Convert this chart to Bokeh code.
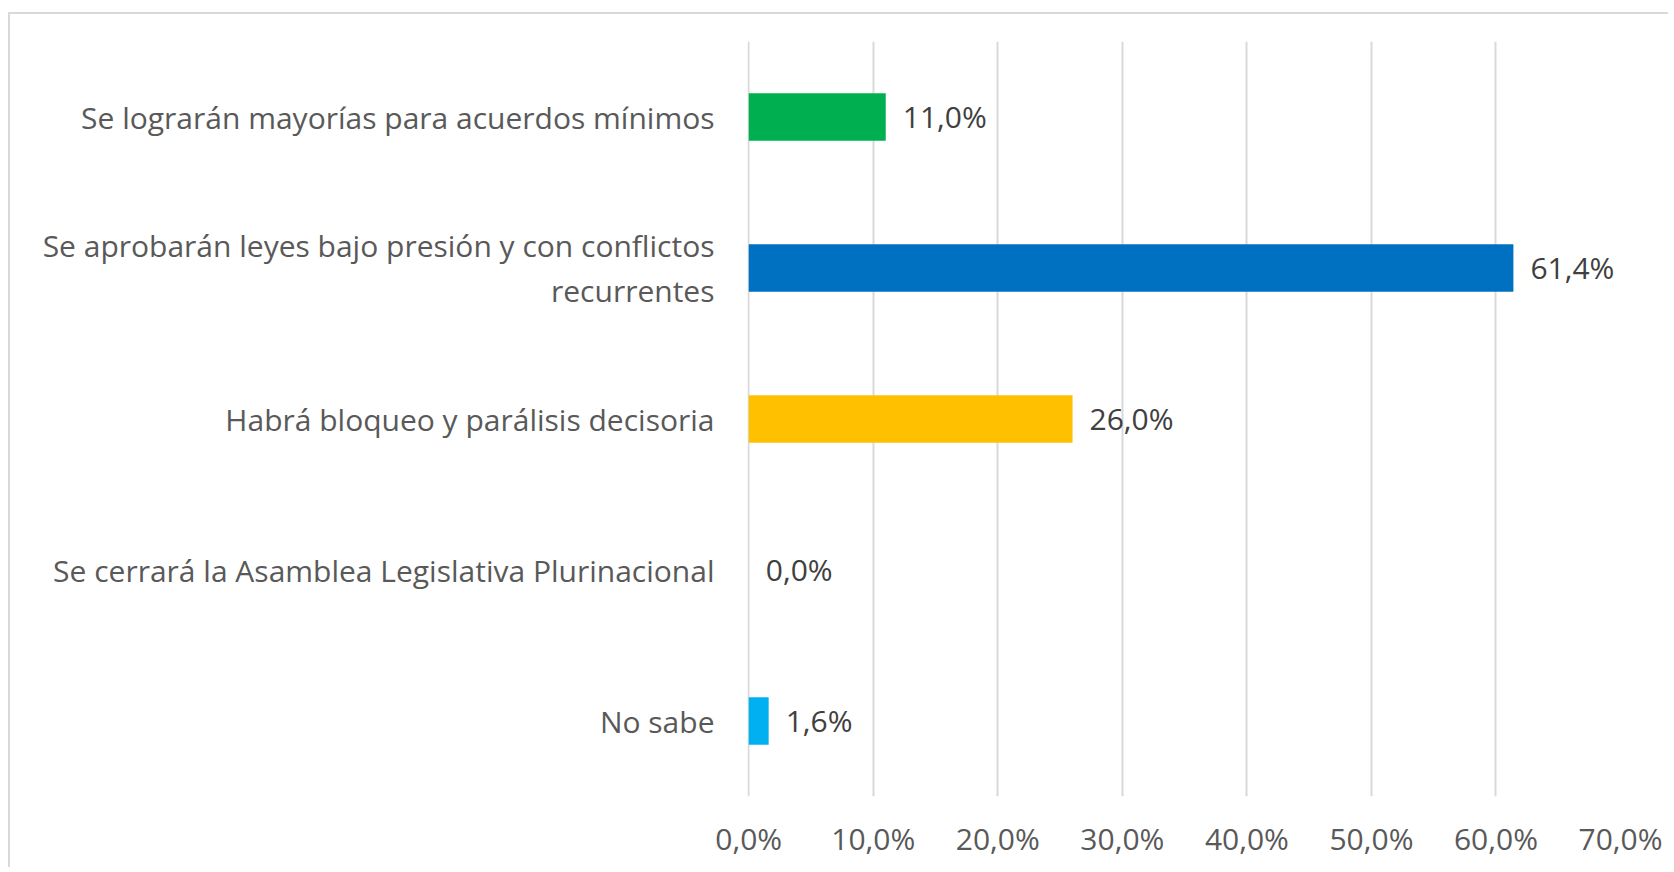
from bokeh.plotting import figure
from bokeh.models import ColumnDataSource, Range1d, FactorRange, CustomJSTickFormatter, FixedTicker
from bokeh.core.properties import value
from bokeh.embed import file_html
from bokeh.resources import INLINE

categories = [
    "Se lograrán mayorías para acuerdos mínimos",
    "Se aprobarán leyes bajo presión y con conflictos\nrecurrentes",
    "Habrá bloqueo y parálisis decisoria",
    "Se cerrará la Asamblea Legislativa Plurinacional",
    "No sabe",
]
values = [11.0, 61.4, 26.0, 0.0, 1.6]
colors = ["#00B050", "#0070C0", "#FFC000", "#7F7F7F", "#00B0F0"]
labels = ["11,0%", "61,4%", "26,0%", "0,0%", "1,6%"]
x_ticks = [0, 10, 20, 30, 40, 50, 60, 70]

src = ColumnDataSource(dict(cat=categories, val=values, color=colors, lab=labels))

W, H = 1660, 855
p = figure(width=W, height=H, output_backend="svg", toolbar_location=None,
           y_range=FactorRange(*list(reversed(categories))),
           x_range=Range1d(-0.1, 70),
           min_border_left=737, min_border_right=50, min_border_top=27, min_border_bottom=73)
p.margin = (12, 0, 0, 8)
p.styles = {"border-top": "2px solid #d9d9d9", "border-left": "2px solid #d9d9d9"}
p.outline_line_color = None
p.background_fill_color = "white"

p.hbar(y="cat", right="val", left=0, height=0.315, fill_color="color", line_color=None, source=src)
p.text(x="val", y="cat", text="lab", source=src, x_offset=17, y_offset=-1,
       text_baseline="middle", text_align="left", text_color="#404040",
       text_font=value("Open Sans"), text_font_size="30px")

p.xgrid.grid_line_color = "#d9d9d9"
p.xgrid.grid_line_width = 2
p.ygrid.grid_line_color = None

p.xaxis.ticker = FixedTicker(ticks=x_ticks)
p.xaxis.formatter = CustomJSTickFormatter(code="return tick.toFixed(1).replace('.', ',') + '%';")
p.xaxis.axis_line_color = None
p.xaxis.major_tick_line_color = None
p.xaxis.minor_tick_line_color = None
p.xaxis.major_label_standoff = 15
p.xaxis.major_label_text_font = "Open Sans"
p.xaxis.major_label_text_font_size = "30px"
p.xaxis.major_label_text_color = "#595959"

p.yaxis.axis_line_color = None
p.yaxis.major_tick_line_color = None
p.yaxis.major_tick_out = 0
p.yaxis.major_label_standoff = 33
p.yaxis.major_label_text_font = "Open Sans"
p.yaxis.major_label_text_font_size = "30px"
p.yaxis.major_label_text_color = "#595959"
p.yaxis.major_label_text_line_height = 1.08

open("out.html", "w").write(file_html(p, INLINE))
